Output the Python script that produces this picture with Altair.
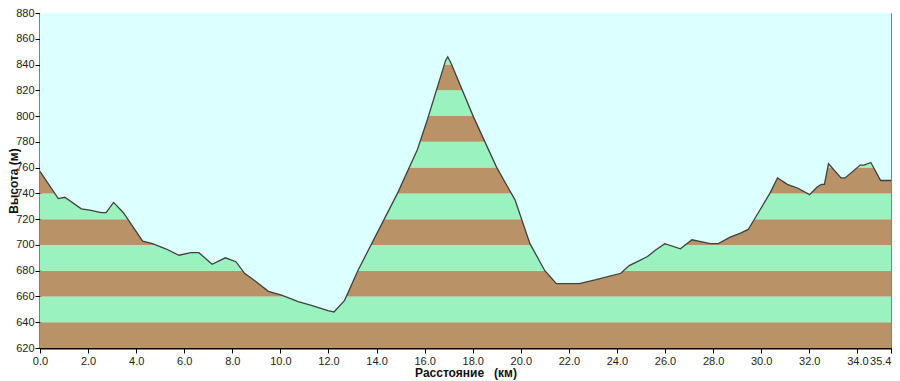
import altair as alt
import pandas as pd

# Distance (km) and elevation (m) of the profile
km = [0.0, 0.76, 1.03, 1.72, 2.07, 2.55, 2.75, 3.06, 3.47, 4.27, 4.68, 5.23, 5.78, 6.27,
      6.61, 7.16, 7.71, 8.15, 8.51, 8.95, 9.50, 10.05, 10.74, 11.29, 11.98, 12.23, 12.67,
      13.22, 14.32, 14.87, 15.70, 16.11, 16.87, 16.96, 17.10, 18.04, 19.00, 19.76, 20.38,
      21.00, 21.48, 22.44, 23.13, 24.16, 24.51, 24.85, 25.27, 25.61, 25.99, 26.64, 27.12,
      27.88, 28.22, 28.71, 29.12, 29.46, 29.88, 30.36, 30.68, 31.09, 31.53, 32.01, 32.33,
      32.50, 32.63, 32.80, 33.32, 33.49, 34.12, 34.28, 34.56, 34.97, 35.40]
elev = [757, 736, 737, 728, 727, 725, 725, 733, 725, 703, 701, 697, 692, 694,
        694, 685, 690, 687, 678, 672, 664, 661, 656, 653, 649, 648, 657,
        680, 720, 740, 774, 797, 843, 846, 841, 799, 760, 735, 701,
        680, 670, 670, 673, 678, 684, 687, 691, 696, 701, 697, 704,
        701, 701, 706, 709, 712, 725, 740, 752, 747, 744, 739, 745,
        747, 747, 763, 752, 752, 762, 762, 764, 750, 750]
top_elev = [880] * len(km)

# Elevation bands
band_lo = [620, 640, 660, 680, 700, 720, 740, 760, 780, 800, 820, 840, 860]
band_hi = [640, 660, 680, 700, 720, 740, 760, 780, 800, 820, 840, 860, 880]
band_fill = ["#B99367", "#9AF3BF", "#B99367", "#9AF3BF", "#B99367", "#9AF3BF", "#B99367",
             "#9AF3BF", "#B99367", "#9AF3BF", "#B99367", "#9AF3BF", "#B99367"]

x_ticks = [0, 2, 4, 6, 8, 10, 12, 14, 16, 18, 20, 22, 24, 26, 28, 30, 32, 34, 35.4]
y_ticks = [620, 640, 660, 680, 700, 720, 740, 760, 780, 800, 820, 840, 860, 880]

SKY = "#DCFFFF"

profile = pd.DataFrame({"km": km, "elev": elev, "top": top_elev})
bands = pd.DataFrame({"lo": band_lo, "hi": band_hi, "fill": band_fill})

xs = alt.Scale(domain=[0, 35.4], nice=False, zero=False)
ys = alt.Scale(domain=[620, 880], nice=False, zero=False)

xaxis = alt.Axis(values=x_ticks, format=".1f", title="Расстояние\u00a0\u00a0\u00a0(км)",
                 labelPadding=2, titlePadding=1, labelFlush=False, labelOverlap=False,
                 labelAlign=alt.expr("datum.value > 35 ? 'right' : 'center'"))
yaxis = alt.Axis(values=y_ticks, format="d", title="Высота (м)",
                 labelPadding=1, titlePadding=-5, labelFlush=False)

band_layer = alt.Chart(bands).mark_rect(strokeWidth=0).encode(
    x=alt.XDatum(0, type="quantitative", scale=xs, axis=xaxis),
    x2=alt.datum(35.4),
    y=alt.Y("lo:Q", scale=ys, axis=yaxis),
    y2="hi:Q",
    fill=alt.Fill("fill:N", scale=None),
)

sky_layer = alt.Chart(profile).mark_area(color=SKY, interpolate="linear", opacity=1).encode(
    x=alt.X("km:Q", scale=xs, axis=xaxis),
    y=alt.Y("elev:Q", scale=ys, axis=yaxis),
    y2="top:Q",
)

line_layer = alt.Chart(profile).mark_line(color="#404040", strokeWidth=1.3).encode(
    x=alt.X("km:Q", scale=xs, axis=xaxis),
    y=alt.Y("elev:Q", scale=ys, axis=yaxis),
)

chart = alt.layer(band_layer, sky_layer, line_layer).properties(
    width=851, height=335,
    autosize=alt.AutoSizeParams(type="none"),
    padding={"left": 32, "top": 5, "right": 1, "bottom": 33},
).configure_view(
    fill=SKY, stroke="#808080", strokeWidth=1,
).configure_axis(
    grid=False,
    domainColor="black", domainWidth=2,
    tickColor="black", tickSize=5, tickWidth=1,
    labelFont="Liberation Sans", labelFontSize=11, labelColor="#222222",
    titleFont="Liberation Sans", titleFontSize=12, titleFontWeight="bold",
    titleColor="#111111",
)

chart.save("out.html", embed_options={"renderer": "svg", "actions": False})
